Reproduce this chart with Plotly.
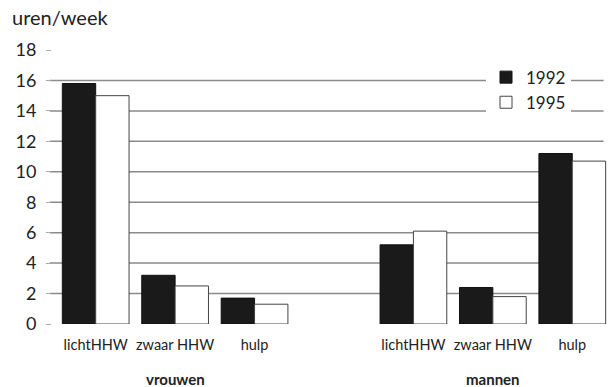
import plotly.graph_objects as go

groups = ["vrouwen", "mannen"]
activities = ["lichtHHW", "zwaar HHW", "hulp"]
years = ["1992", "1995"]
values_1992 = [15.8, 3.2, 1.7, 5.2, 2.4, 11.2]
values_1995 = [15.0, 2.5, 1.3, 6.1, 1.8, 10.7]
y_ticks = [0, 2, 4, 6, 8, 10, 12, 14, 16, 18]
grid_values = [2, 4, 6, 8, 10, 12, 14, 16]

# category keys with a spacer between the two groups
keys = []
labels = []
bar_keys = []
for gi, g in enumerate(groups):
    if gi > 0:
        keys.append("gap")
        labels.append("")
    for a in activities:
        k = f"{g}|{a}"
        keys.append(k)
        labels.append(a)
        bar_keys.append(k)

FONT = "Lato"
fig = go.Figure()
fig.add_trace(go.Bar(x=bar_keys, y=values_1992, name=years[0],
                     marker=dict(color="#1a1a1a", line=dict(color="#111", width=1))))
fig.add_trace(go.Bar(x=bar_keys, y=values_1995, name=years[1],
                     marker=dict(color="white", line=dict(color="#444", width=1))))

for v in grid_values:
    fig.add_shape(type="line", xref="paper", yref="y", x0=-0.004, x1=0.985, y0=v, y1=v,
                  line=dict(color="#8a8a8a", width=1.5), layer="below")

for g in groups:
    fig.add_annotation(x=f"{g}|{activities[1]}", xref="x", y=-0.2, yref="paper",
                       text=f"<b>{g}</b>", showarrow=False,
                       font=dict(family=FONT, size=15, color="#222"), yanchor="middle")

fig.add_annotation(x=-0.075, xref="paper", y=1.12, yref="paper", text="uren/week",
                   showarrow=False, xanchor="left", yanchor="middle",
                   font=dict(family=FONT, size=20, color="#222"))

fig.update_layout(
    width=612, height=387,
    margin=dict(l=52, r=0, t=50, b=63, autoexpand=False),
    paper_bgcolor="white", plot_bgcolor="white",
    barmode="group", bargap=0.16, bargroupgap=0,
    showlegend=True,
    legend=dict(x=0.775, y=0.965, xanchor="left", yanchor="top",
                bgcolor="white", font=dict(family=FONT, size=17, color="#222"),
                itemwidth=30, tracegroupgap=0),
    xaxis=dict(type="category", categoryorder="array", categoryarray=keys,
               tickmode="array", tickvals=keys, ticktext=labels, automargin=False,
               range=[-0.55, 6.5], showgrid=False, showline=False, ticks="",
               ticklabelstandoff=10,
               tickfont=dict(family=FONT, size=14.5, color="#222")),
    yaxis=dict(range=[0, 18], tickvals=y_ticks, showgrid=False, zeroline=False,
               automargin=False, showline=False, ticks="outside", ticklen=5,
               tickcolor="#aaa", ticklabelstandoff=6,
               tickfont=dict(family=FONT, size=18, color="#222")),
)

fig.write_html("out.html", config={"displayModeBar": False},
               post_script="document.body.style.margin='0';document.body.style.overflow='hidden';")
